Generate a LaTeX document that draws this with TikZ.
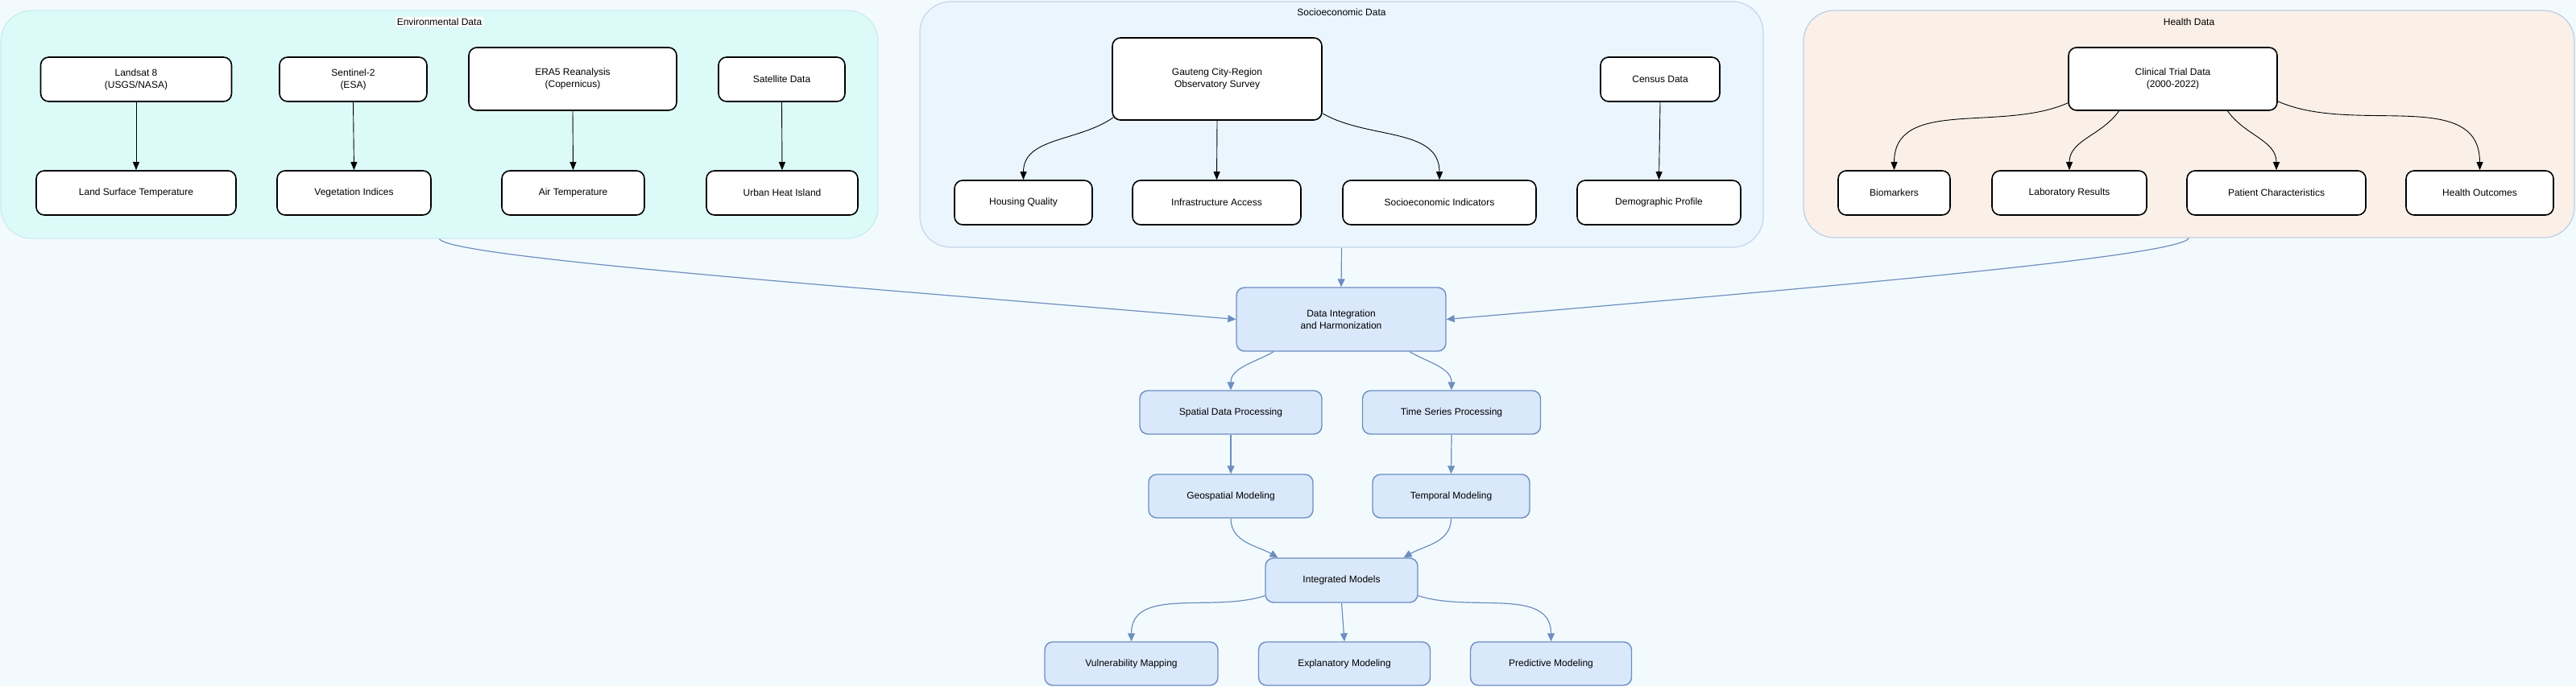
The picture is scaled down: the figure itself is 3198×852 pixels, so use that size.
\documentclass[tikz,border=0pt]{standalone}
\usepackage{fontspec}
\setmainfont{Liberation Sans}
\usetikzlibrary{arrows.meta,positioning,calc}
\definecolor{bgcol}{HTML}{F3FAFE}
\definecolor{envfill}{HTML}{DCFAF8}
\definecolor{envline}{HTML}{CAECEF}
\definecolor{socfill}{HTML}{EAF5FE}
\definecolor{socline}{HTML}{C3D6EA}
\definecolor{hltfill}{HTML}{FAF0E8}
\definecolor{hltline}{HTML}{BCCDE2}
\definecolor{flowfill}{HTML}{DAE8FC}
\definecolor{flowline}{HTML}{6C8EBF}

\begin{document}
\begin{tikzpicture}[x=1pt,y=-1pt,
    grpbox/.style={rounded corners=38pt,line width=1.2pt},
    envgroup/.style={grpbox,draw=envline,fill=envfill},
    socgroup/.style={grpbox,draw=socline,fill=socfill},
    hltgroup/.style={grpbox,draw=hltline,fill=hltfill},
    grptitle/.style={font=\fontsize{12}{15}\selectfont,inner sep=2pt},
    srcbox/.style={draw=black,fill=white,rounded corners=10pt,line width=1.6pt,
        align=center,font=\fontsize{12}{15}\selectfont,inner sep=0pt,minimum height=55pt},
    flowbox/.style={draw=flowline,fill=flowfill,rounded corners=10pt,line width=1.4pt,
        align=center,font=\fontsize{12}{15}\selectfont,inner sep=0pt,minimum height=54pt},
    srcarrow/.style={-{Triangle[length=10pt,width=8pt]},draw=black,line width=0.9pt},
    flowarrow/.style={-{Triangle[length=10pt,width=9pt]},draw=flowline,line width=1.2pt}
]
\fill[bgcol] (0,0) rectangle (3198,852);
\useasboundingbox (0,0) rectangle (3198,852);

% data groups
\node[envgroup,minimum width=1089pt,minimum height=283pt] (envgrp) at (545.5,154.5) {};
\node[socgroup,minimum width=1047pt,minimum height=305pt] (socgrp) at (1665.5,154.5) {};
\node[hltgroup,minimum width=957pt,minimum height=282pt] (hltgrp) at (2717.5,154) {};
\node[grptitle,fill=white] at (545.5,27) {Environmental Data};
\node[grptitle] at (1665.5,15) {Socioeconomic Data};
\node[grptitle] at (2717.5,27) {Health Data};

% environmental sources
\node[srcbox,minimum width=237pt] (landsat) at (169,98.5) {Landsat 8\\(USGS/NASA)};
\node[srcbox,minimum width=183pt] (sentinel) at (438.5,98.5) {Sentinel-2\\(ESA)};
\node[srcbox,minimum width=258pt,minimum height=78pt] (era) at (711,98) {ERA5 Reanalysis\\(Copernicus)};
\node[srcbox,minimum width=157pt] (satellite) at (970.5,98.5) {Satellite Data};
\node[srcbox,minimum width=248pt] (lst) at (169,239.5) {Land Surface Temperature};
\node[srcbox,minimum width=191pt] (veg) at (439.5,239.5) {Vegetation Indices};
\node[srcbox,minimum width=177pt] (airtemp) at (711.5,239.5) {Air Temperature};
\node[srcbox,minimum width=188pt] (uhi) at (971,239.5) {Urban Heat Island};

% socioeconomic sources
\node[srcbox,minimum width=260pt,minimum height=102pt] (gauteng) at (1511,98) {Gauteng City-Region\\Observatory Survey};
\node[srcbox,minimum width=148pt] (census) at (2061,98.5) {Census Data};
\node[srcbox,minimum width=171pt] (housing) at (1270.5,251.5) {Housing Quality};
\node[srcbox,minimum width=209pt] (infra) at (1510.5,251.5) {Infrastructure Access};
\node[srcbox,minimum width=240pt] (socind) at (1787,251.5) {Socioeconomic Indicators};
\node[srcbox,minimum width=203pt] (demo) at (2059.5,251.5) {Demographic Profile};

% health sources
\node[srcbox,minimum width=259pt,minimum height=78pt] (clinical) at (2697.5,98) {Clinical Trial Data\\(2000-2022)};
\node[srcbox,minimum width=139pt] (bio) at (2351.5,239.5) {Biomarkers};
\node[srcbox,minimum width=192pt] (lab) at (2569,239.5) {Laboratory Results};
\node[srcbox,minimum width=222pt] (patient) at (2826,239.5) {Patient Characteristics};
\node[srcbox,minimum width=183pt] (outcomes) at (3078.5,239.5) {Health Outcomes};

% processing flow
\node[flowbox,minimum width=260pt,minimum height=79pt] (integ) at (1665,396.5) {Data Integration\\and Harmonization};
\node[flowbox,minimum width=226pt] (spatial) at (1528,512) {Spatial Data Processing};
\node[flowbox,minimum width=221pt] (timeser) at (1802,512) {Time Series Processing};
\node[flowbox,minimum width=204pt] (geo) at (1528,616) {Geospatial Modeling};
\node[flowbox,minimum width=195pt] (temporal) at (1801.5,616) {Temporal Modeling};
\node[flowbox,minimum width=189pt,minimum height=55pt] (intmod) at (1665.5,720.5) {Integrated Models};
\node[flowbox,minimum width=215pt] (vuln) at (1404.5,824) {Vulnerability Mapping};
\node[flowbox,minimum width=213pt] (expl) at (1669,824) {Explanatory Modeling};
\node[flowbox,minimum width=200pt] (pred) at (1925.5,824) {Predictive Modeling};

% source arrows
\draw[srcarrow] (landsat.south)--(lst.north);
\draw[srcarrow] (sentinel.south)--(veg.north);
\draw[srcarrow] (era.south)--(airtemp.north);
\draw[srcarrow] (satellite.south)--(uhi.north);
\draw[srcarrow] ([xshift=2pt,yshift=4pt]gauteng.south west) to[out=-145,in=90] (housing.north);
\draw[srcarrow] (gauteng.south)--(infra.north);
\draw[srcarrow] ([yshift=9pt]gauteng.south east) to[out=-30,in=90] (socind.north);
\draw[srcarrow] (census.south)--(demo.north);
\draw[srcarrow] ([yshift=10pt]clinical.south west) to[out=-156,in=90] (bio.north);
\draw[srcarrow] ([xshift=-67pt]clinical.south) to[out=-125,in=90] (lab.north);
\draw[srcarrow] ([xshift=68pt]clinical.south) to[out=-55,in=90] (patient.north);
\draw[srcarrow] ([yshift=12pt]clinical.south east) to[out=-24,in=90] (outcomes.north);

% flow arrows
\draw[flowarrow] (envgrp.south) .. controls +(12,24) and +(-420,-36) .. (integ.west);
\draw[flowarrow] (socgrp.south)--(integ.north);
\draw[flowarrow] (hltgrp.south) .. controls +(-12,24) and +(420,-36) .. (integ.east);
\draw[flowarrow] ([xshift=-84pt]integ.south) to[out=-150,in=90] (spatial.north);
\draw[flowarrow] ([xshift=85pt]integ.south) to[out=-30,in=90] (timeser.north);
\draw[flowarrow] (spatial.south)--(geo.north);
\draw[flowarrow] (timeser.south)--(temporal.north);
\draw[flowarrow] (geo.south) to[out=-90,in=150] ([xshift=-79pt]intmod.north);
\draw[flowarrow] (temporal.south) to[out=-90,in=30] ([xshift=77pt]intmod.north);
\draw[flowarrow] ([yshift=9pt]intmod.south west) to[out=-162,in=90] (vuln.north);
\draw[flowarrow] (intmod.south)--(expl.north);
\draw[flowarrow] ([yshift=9pt]intmod.south east) to[out=-18,in=90] (pred.north);
\end{tikzpicture}
\end{document}
